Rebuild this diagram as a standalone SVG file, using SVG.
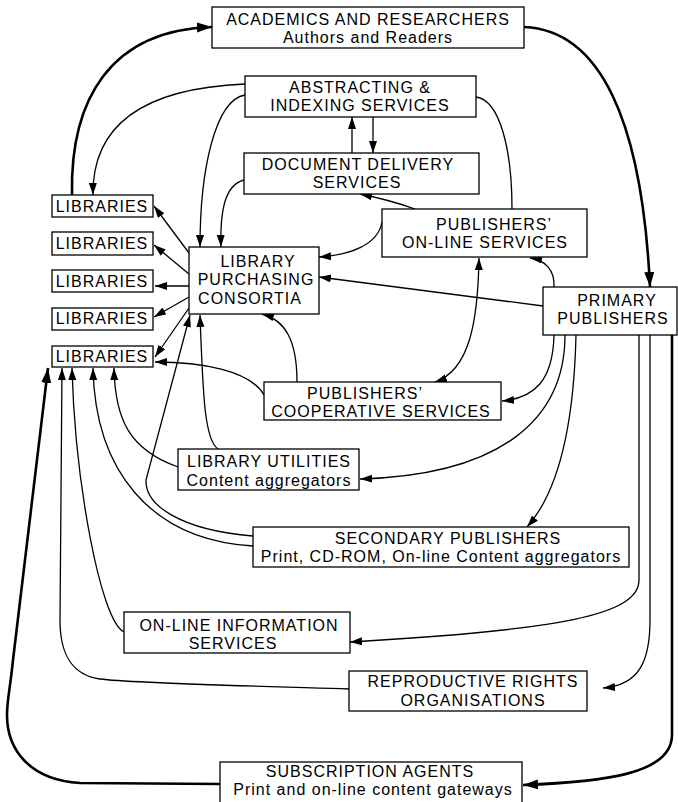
<svg xmlns="http://www.w3.org/2000/svg" width="678" height="802" viewBox="0 0 678 802">
<style>
  .box { fill: #fff; stroke: #000; stroke-width: 1.3; }
  text { font-family: "Liberation Sans", Arial, sans-serif; font-size: 16px; letter-spacing: 1px; fill: #000; text-anchor: middle; }
  .c { fill: none; stroke: #000; stroke-width: 1.3; }
  .t { fill: none; stroke: #000; stroke-width: 2.6; }
  .a { marker-end: url(#ar); }
  .at { marker-end: url(#art); }
  .ab { marker-start: url(#ars); marker-end: url(#ar); }
</style>
<defs>
  <marker id="ar" markerUnits="userSpaceOnUse" markerWidth="14" markerHeight="10" refX="12" refY="4" orient="auto">
    <path d="M0,0 L12,4 L0,8 z" fill="#000"/>
  </marker>
  <marker id="ars" markerUnits="userSpaceOnUse" markerWidth="14" markerHeight="10" refX="12" refY="4" orient="auto-start-reverse">
    <path d="M0,0 L12,4 L0,8 z" fill="#000"/>
  </marker>
  <marker id="art" markerUnits="userSpaceOnUse" markerWidth="18" markerHeight="12" refX="15" refY="5" orient="auto">
    <path d="M0,0 L15,5 L0,10 z" fill="#000"/>
  </marker>
</defs>
<rect width="678" height="802" fill="#fff"/>

<g id="connectors">
  <!-- Libraries -> Academics -->
  <path class="t at" d="M72,195 C70,100 110,30 212,27"/>
  <!-- Academics -> Primary publishers -->
  <path class="t at" d="M524,27 C600,30 642,120 650,287"/>
  <!-- Abstracting -> Libraries 1 -->
  <path class="c a" d="M245,84 C150,88 92,120 93,195"/>
  <!-- Abstracting -> LPC -->
  <path class="c a" d="M245,95 C215,100 200,170 200,247"/>
  <!-- Document delivery -> LPC -->
  <path class="c a" d="M244,180 C225,185 220,210 221,247"/>
  <!-- Abstracting <-> Document delivery -->
  <path class="c a" d="M352,153 L352,117"/>
  <path class="c a" d="M373,117 L373,153"/>
  <!-- Abstracting to Publishers on-line -->
  <path class="c" d="M476,97 C500,100 512,150 512,209"/>
  <!-- Publishers on-line -> Document delivery -->
  <path class="c a" d="M415,209 Q390,200 360,194"/>
  <!-- Publishers on-line -> LPC -->
  <path class="c a" d="M382,222 C378,245 350,255 319,257"/>
  <!-- Primary -> LPC -->
  <path class="c a" d="M543,306 L319,277"/>
  <!-- Primary -> Publishers on-line -->
  <path class="c a" d="M554,287 C555,270 545,260 530,258"/>
  <!-- Publishers on-line <-> Cooperative -->
  <path class="c ab" d="M479,258 C478,320 470,370 435,382"/>
  <!-- Primary -> Cooperative -->
  <path class="c a" d="M554,335 C553,380 535,398 502,401"/>
  <!-- Primary -> Library utilities -->
  <path class="c a" d="M565,335 C565,420 500,475 360,479"/>
  <!-- Primary -> Secondary publishers -->
  <path class="c a" d="M576,335 C574,420 560,490 527,527"/>
  <!-- Primary -> On-line information -->
  <path class="c a" d="M639,335 V580 C639,615 560,630 350,642"/>
  <!-- Primary -> Reproductive rights -->
  <path class="c a" d="M650,335 V620 C650,660 640,685 603,688"/>
  <!-- Primary -> Subscription agents -->
  <path class="t at" d="M672,335 V735 C672,775 600,782 523,785"/>
  <!-- LPC -> Libraries -->
  <path class="c a" d="M189,253 L154,206"/>
  <path class="c a" d="M189,274 L154,245"/>
  <path class="c a" d="M189,286 L155,286"/>
  <path class="c a" d="M189,297 L154,317"/>
  <path class="c a" d="M189,308 L155,357"/>
  <!-- Secondary -> LPC -->
  <path class="c a" d="M253,536 C180,530 145,505 146,480 L190,315"/>
  <!-- Library utilities -> LPC -->
  <path class="c a" d="M218,449 C205,440 203,400 200,315"/>
  <!-- Cooperative -> LPC -->
  <path class="c a" d="M297,382 C297,340 285,320 262,314"/>
  <!-- Cooperative -> Libraries 5 -->
  <path class="c a" d="M264,395 C250,370 200,362 155,362"/>
  <!-- into Libraries 5 from below -->
  <path class="c a" d="M178,467 C130,450 115,420 114,368"/>
  <path class="c a" d="M253,546 C150,540 95,470 93,368"/>
  <path class="c a" d="M124,632 C100,620 75,480 72,368"/>
  <path class="c a" d="M349,689 C250,686 130,683 100,679 C72,675 60,655 60,620 L62,368"/>
  <path class="t at" d="M220,784 L80,783 C30,780 7,750 7,715 C7,700 10,690 13,660 L48,368"/>
</g>

<g id="academics">
  <rect class="box" x="212" y="7" width="312" height="41"/>
  <text x="368" y="25">ACADEMICS AND RESEARCHERS</text>
  <text x="368" y="43">Authors and Readers</text>
</g>
<g id="abstracting">
  <rect class="box" x="245" y="76" width="231" height="41"/>
  <text x="360" y="93">ABSTRACTING &amp;</text>
  <text x="360" y="111">INDEXING SERVICES</text>
</g>
<g id="document-delivery">
  <rect class="box" x="244" y="153" width="235" height="41"/>
  <text x="358" y="170">DOCUMENT DELIVERY</text>
  <text x="357" y="188">SERVICES</text>
</g>
<g id="publishers-online">
  <rect class="box" x="382" y="209" width="205" height="48"/>
  <text x="494" y="230">PUBLISHERS’</text>
  <text x="485" y="248">ON-LINE SERVICES</text>
</g>
<g id="primary-publishers">
  <rect class="box" x="543" y="287" width="134" height="48"/>
  <text x="617" y="306">PRIMARY</text>
  <text x="613" y="324">PUBLISHERS</text>
</g>
<g id="lpc">
  <rect class="box" x="189" y="247" width="130" height="67"/>
  <text x="258" y="267">LIBRARY</text>
  <text x="256" y="285">PURCHASING</text>
  <text x="250" y="304">CONSORTIA</text>
</g>
<g id="libraries-1">
  <rect class="box" x="52" y="195" width="101" height="22"/>
  <text x="102" y="212">LIBRARIES</text>
</g>
<g id="libraries-2">
  <rect class="box" x="52" y="232" width="101" height="23"/>
  <text x="102" y="249">LIBRARIES</text>
</g>
<g id="libraries-3">
  <rect class="box" x="52" y="270" width="101" height="22"/>
  <text x="102" y="287">LIBRARIES</text>
</g>
<g id="libraries-4">
  <rect class="box" x="52" y="308" width="101" height="22"/>
  <text x="102" y="324">LIBRARIES</text>
</g>
<g id="libraries-5">
  <rect class="box" x="52" y="346" width="101" height="21"/>
  <text x="102" y="362">LIBRARIES</text>
</g>
<g id="cooperative">
  <rect class="box" x="264" y="382" width="237" height="38"/>
  <text x="365" y="399">PUBLISHERS’</text>
  <text x="381" y="417">COOPERATIVE SERVICES</text>
</g>
<g id="library-utilities">
  <rect class="box" x="178" y="449" width="181" height="41"/>
  <text x="269" y="467">LIBRARY UTILITIES</text>
  <text x="269" y="486">Content aggregators</text>
</g>
<g id="secondary-publishers">
  <rect class="box" x="253" y="527" width="376" height="40"/>
  <text x="448" y="544">SECONDARY PUBLISHERS</text>
  <text x="441" y="562">Print, CD-ROM, On-line Content aggregators</text>
</g>
<g id="online-information">
  <rect class="box" x="124" y="612" width="226" height="41"/>
  <text x="239" y="631">ON-LINE INFORMATION</text>
  <text x="233" y="649">SERVICES</text>
</g>
<g id="reproductive-rights">
  <rect class="box" x="349" y="671" width="238" height="40"/>
  <text x="473" y="687">REPRODUCTIVE RIGHTS</text>
  <text x="473" y="706">ORGANISATIONS</text>
</g>
<g id="subscription-agents">
  <rect class="box" x="220" y="762" width="302" height="48"/>
  <text x="370" y="777">SUBSCRIPTION AGENTS</text>
  <text x="373" y="795">Print and on-line content gateways</text>
</g>
</svg>
